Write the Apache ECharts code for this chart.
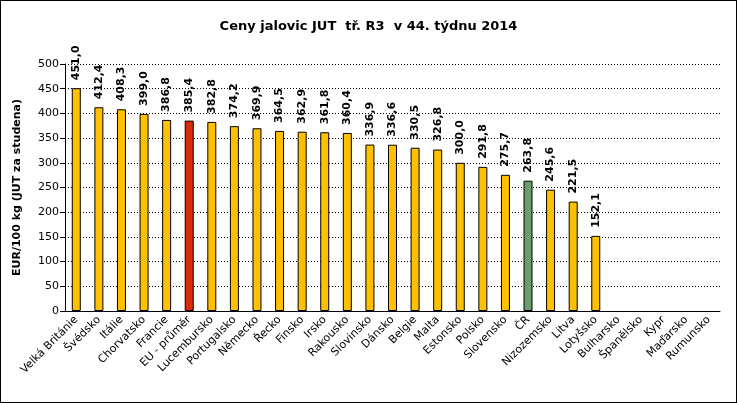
<!DOCTYPE html>
<html><head><meta charset="utf-8">
<script src="https://cdn.jsdelivr.net/npm/echarts@6/dist/echarts.min.js"></script>
<style>html,body{margin:0;padding:0;background:#fff}#c{width:737px;height:403px;box-sizing:border-box;border:1px solid #000}</style>
</head><body><div id="c"></div>
<script>
const categories = ["Velká Británie","Švédsko","Itálie","Chorvatsko","Francie","EU - průměr","Lucembursko","Portugalsko","Německo","Řecko","Finsko","Irsko","Rakousko","Slovinsko","Dánsko","Belgie","Malta","Estonsko","Polsko","Slovensko","ČR","Nizozemsko","Litva","Lotyšsko","Bulharsko","Španělsko","Kypr","Maďarsko","Rumunsko"];
const values = [451.0,412.4,408.3,399.0,386.8,385.4,382.8,374.2,369.9,364.5,362.9,361.8,360.4,336.9,336.6,330.5,326.8,300.0,291.8,275.7,263.8,245.6,221.5,152.1,null,null,null,null,null];
const yTicks = [0,50,100,150,200,250,300,350,400,450,500];
const titleText = "Ceny jalovic JUT  tř. R3  v 44. týdnu 2014";
const yName = "EUR/100 kg (JUT za studena)";

const colorFor = c => c === "EU - průměr" ? "#DD2A0A" : (c === "ČR" ? "#6A9E6A" : "#FFC000");
const chart = echarts.init(document.getElementById('c'));
chart.setOption({
  animation:false,
  title:{text:titleText,left:'center',top:14,textStyle:{fontFamily:'DejaVu Sans',fontSize:13,fontWeight:'bold',color:'#000'}},
  grid:{left:64,right:16,top:63,bottom:91},
  xAxis:{type:'category',data:categories,
    axisLine:{lineStyle:{color:'#000'}},axisTick:{lineStyle:{color:'#000'},alignWithLabel:false},
    axisLabel:{rotate:45,interval:0,fontFamily:'DejaVu Sans',fontSize:11,color:'#000',margin:7}},
  yAxis:{type:'value',min:yTicks[0],max:yTicks[yTicks.length-1],interval:50,
    name:yName,nameLocation:'middle',nameGap:42,nameTextStyle:{fontFamily:'DejaVu Sans',fontSize:11,fontWeight:'bold',color:'#000'},
    axisLine:{show:true,lineStyle:{color:'#000'}},axisTick:{show:true,lineStyle:{color:'#000'}},
    axisLabel:{fontFamily:'DejaVu Sans',fontSize:11,color:'#000',margin:6},
    splitLine:{lineStyle:{color:'#000',type:[1,2],width:1}}},
  series:[{type:'bar',barWidth:9,
    data:values.map((v,i)=>({value:v,itemStyle:{color:colorFor(categories[i]),borderColor:'#000',borderWidth:1}})),
    label:{show:true,position:'top',rotate:90,align:'left',verticalAlign:'middle',distance:8,
      fontFamily:'DejaVu Sans',fontSize:11,fontWeight:'bold',color:'#000',
      formatter:p=>p.value==null?'':p.value.toFixed(1).replace('.',',')}}]
});
</script></body></html>
